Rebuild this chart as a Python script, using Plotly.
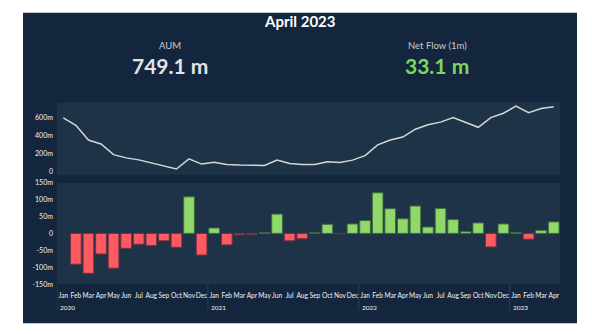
import plotly.graph_objects as go

month_names = ["Jan", "Feb", "Mar", "Apr", "May", "Jun", "Jul", "Aug", "Sep", "Oct", "Nov", "Dec"]
years = ["2020"] * 12 + ["2021"] * 12 + ["2022"] * 12 + ["2023"] * 4
months = month_names * 3 + month_names[:4]

aum = [593, 511, 350, 307, 189, 154, 132, 100, 71, 32, 143, 86,
       107, 82, 75, 71, 71, 129, 93, 82, 82, 111, 104, 129,
       179, 296, 350, 382, 468, 518, 546, 596, 543, 489, 596, 643,
       721, 650, 696, 715]
net_flow = [0, -91, -118, -61, -103, -44, -32, -36, -22, -41, 108, -64,
            16, -34, -4, -3, 2, 57, -22, -16, 2, 27, -1, 28,
            38, 120, 73, 43, 81, 19, 74, 41, 5, 31, -40, 28,
            3, -17, 9, 34]

title_text = "April 2023"
kpi_labels = ["AUM", "Net Flow (1m)"]
kpi_values = ["749.1 m", "33.1 m"]
aum_ticks = [0, 200, 400, 600]
aum_ticktext = ["0", "200m", "400m", "600m"]
flow_ticks = [-150, -100, -50, 0, 50, 100, 150]
flow_ticktext = ["-150m", "-100m", "-50m", "0", "50m", "100m", "150m"]

W, H = 592, 334
PANEL = "#13263d"
PLOTBG = "#1f3348"
RED = "#fd5a62"
GREEN = "#91d86a"

def fx(px):
    return px / W

def fy(py):
    return 1 - py / H

idx = list(range(len(months)))
fig = go.Figure()

fig.add_trace(go.Scatter(x=idx, y=aum, mode="lines", xaxis="x", yaxis="y",
                         line=dict(color="#d6d6d6", width=1.5),
                         hoverinfo="skip", showlegend=False))

bar_colors = [GREEN if v >= 0 else RED for v in net_flow]
bar_lines = ["#3c6a3e" if v > 0 else ("#6e3442" if v < 0 else "#22343f") for v in net_flow]
fig.add_trace(go.Bar(x=idx, y=net_flow, xaxis="x2", yaxis="y2",
                     marker=dict(color=bar_colors, line=dict(color=bar_lines, width=1)),
                     hoverinfo="skip", showlegend=False))

font_family = "Lato, Noto Sans, sans-serif"
tickfont = dict(family=font_family, size=7, color="#f2f2f2")
xtickfont = dict(family=font_family, size=6.6, color="#f2f2f2")
xr = [-0.5, len(months) - 0.5]

fig.update_layout(
    width=W, height=H, margin=dict(l=0, r=0, t=0, b=0),
    paper_bgcolor="white", plot_bgcolor=PLOTBG,
    bargap=0.15,
    xaxis=dict(domain=[fx(57), fx(560)], anchor="y", range=xr, showticklabels=False,
               showgrid=False, zeroline=False, ticks=""),
    yaxis=dict(domain=[fy(174), fy(100)], range=[-32, 760], tickvals=aum_ticks,
               ticktext=aum_ticktext, showgrid=False, zeroline=False,
               tickfont=tickfont, ticks="", ticklabelstandoff=3),
    xaxis2=dict(domain=[fx(57), fx(560)], anchor="y2", range=xr, showgrid=False,
                zeroline=False, tickvals=idx, ticktext=months,
                tickfont=xtickfont, tickangle=0, ticks="", ticklabelstandoff=6),
    yaxis2=dict(domain=[fy(286), fy(182)], range=[-150, 150], tickvals=flow_ticks,
                ticktext=flow_ticktext, showgrid=False, zeroline=True,
                zerolinecolor="#172a3b", zerolinewidth=1,
                tickfont=tickfont, ticks="", ticklabelstandoff=3),
)

# dark panel + plot-area backgrounds
fig.add_shape(type="rect", xref="paper", yref="paper",
              x0=fx(23), x1=fx(577), y0=fy(326), y1=fy(8),
              fillcolor=PANEL, line=dict(width=0), layer="below")
for xa, ya in [("x", "y"), ("x2", "y2")]:
    fig.add_shape(type="rect", xref=xa + " domain", yref=ya + " domain",
                  x0=0, x1=1, y0=0, y1=1, fillcolor=PLOTBG,
                  line=dict(width=0), layer="below")

# year dividers and year labels
for i, (yr, mo) in enumerate(zip(years, months)):
    if i == 0 or years[i - 1] != yr:
        fig.add_shape(type="line", xref="x2", yref="paper",
                      x0=i - 0.5, x1=i - 0.5, y0=fy(313), y1=fy(286),
                      line=dict(color="#2b4058", width=1))
        fig.add_annotation(text=yr, xref="x2", yref="paper", x=i - 0.5, y=fy(310),
                           xanchor="left", yanchor="middle", xshift=1, showarrow=False,
                           font=dict(family=font_family, size=6.5, color="#f2f2f2"))

fig.add_annotation(text="<b>" + title_text + "</b>", xref="paper", yref="paper",
                   x=fx(300), y=fy(16), xanchor="center", yanchor="middle", showarrow=False,
                   font=dict(family=font_family, size=15, color="white"))
kpi_x = [170, 437]
kpi_colors = ["#e4e4e4", "#7fd65a"]
for lab, val, px, col in zip(kpi_labels, kpi_values, kpi_x, kpi_colors):
    fig.add_annotation(text=lab, xref="paper", yref="paper", x=fx(px), y=fy(41),
                       xanchor="center", yanchor="middle", showarrow=False,
                       font=dict(family=font_family, size=9.5, color="#c8ccd2"))
    fig.add_annotation(text="<b>" + val + "</b>", xref="paper", yref="paper",
                       x=fx(px), y=fy(62), xanchor="center", yanchor="middle", showarrow=False,
                       font=dict(family=font_family, size=21, color=col))

fig.write_html("out.html")
